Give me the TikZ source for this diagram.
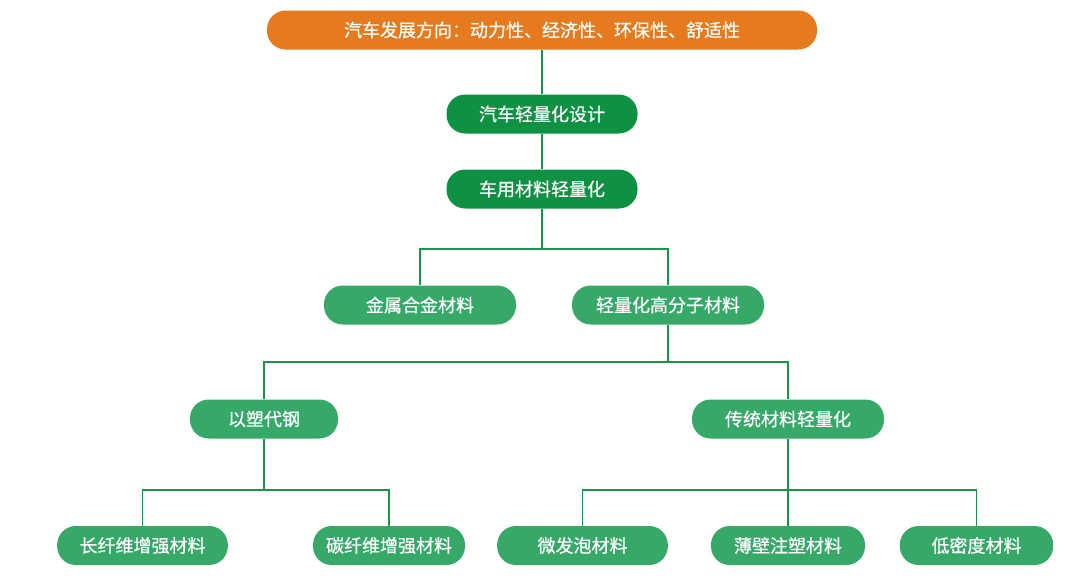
\documentclass[tikz,border=0pt]{standalone}
\usepackage{fontspec}
\setmainfont{Noto Sans CJK SC}
\newfontfamily\boxfont[FakeBold=0.6]{Noto Sans CJK SC}
\definecolor{topor}{HTML}{E67A1E}
\definecolor{dkgreen}{HTML}{0E9142}
\definecolor{ltgreen}{HTML}{36A969}
\definecolor{lineg}{HTML}{1A9448}
\tikzset{
  box/.style={rounded corners=14pt, minimum height=29.25pt, inner sep=0pt, text=white, font=\boxfont\fontsize{13.5pt}{15pt}\selectfont},
  topbox/.style={box, fill=topor},
  dbox/.style={box, fill=dkgreen},
  lbox/.style={box, fill=ltgreen},
  conn/.style={draw=lineg, line width=1.2pt},
}
\begin{document}
\begin{tikzpicture}[x=0.75pt,y=-0.75pt]
\useasboundingbox (0,0) rectangle (1080,578);
\node[topbox, minimum width=412.5pt] (top) at (542,30) {汽车发展方向：动力性、经济性、环保性、舒适性};
\node[dbox, minimum width=143.25pt] (design) at (542,114) {汽车轻量化设计};
\node[dbox, minimum width=143.25pt] (mat) at (542,189) {车用材料轻量化};
\node[lbox, minimum width=144pt] (metal) at (420,305) {金属合金材料};
\node[lbox, minimum width=144pt] (poly) at (668,305) {轻量化高分子材料};
\node[lbox, minimum width=111pt] (plast) at (264,419) {以塑代钢};
\node[lbox, minimum width=144pt] (trad) at (788,419) {传统材料轻量化};
\node[lbox, minimum width=128pt] (long) at (142.5,545.5) {长纤维增强材料};
\node[lbox, minimum width=114pt] (carb) at (389,545.5) {碳纤维增强材料};
\node[lbox, minimum width=128pt] (foam) at (582.5,545.5) {微发泡材料};
\node[lbox, minimum width=115.5pt] (thin) at (788,545.5) {薄壁注塑材料};
\node[lbox, minimum width=115pt] (low) at (976.5,545.5) {低密度材料};

\coordinate (j1) at (542,249);
\coordinate (j2) at (668,362);
\coordinate (j3) at (264,490);
\coordinate (j4) at (788,490);

\draw[conn] (top.south) -- (design.north);
\draw[conn] (design.south) -- (mat.north);
\draw[conn] (mat.south) -- (j1);
\draw[conn] (metal.north) |- (j1) -| (poly.north);
\draw[conn] (poly.south) -- (j2);
\draw[conn] (plast.north) |- (j2) -| (trad.north);
\draw[conn] (plast.south) -- (j3);
\draw[conn] (long.north) |- (j3) -| (carb.north);
\draw[conn] (trad.south) -- (thin.north);
\draw[conn] (foam.north) |- (j4) -| (low.north);
\end{tikzpicture}
\end{document}
